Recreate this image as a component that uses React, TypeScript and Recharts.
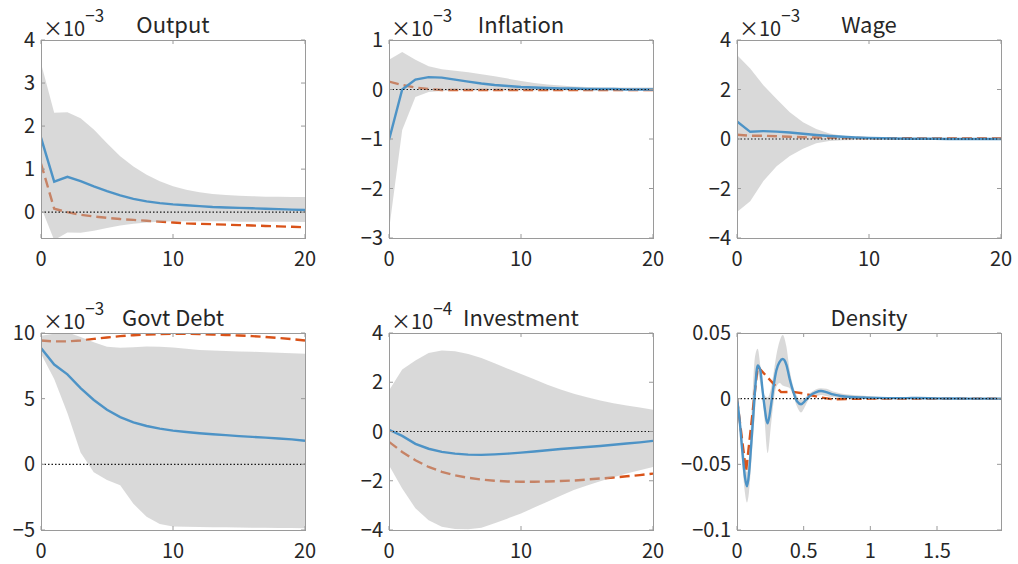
import React from 'react';
import { ComposedChart, Line, Area, XAxis, YAxis, ReferenceLine } from 'recharts';

// quarters after the shock
const HORIZON = [0, 1, 2, 3, 4, 5, 6, 7, 8, 9, 10, 11, 12, 13, 14, 15, 16, 17, 18, 19, 20];

// Output, x10^-3
const OUTPUT_MEAN = [1.73, 0.71, 0.82, 0.72, 0.6, 0.49, 0.39, 0.31, 0.25, 0.21, 0.18, 0.16, 0.14, 0.12, 0.11, 0.1, 0.09, 0.08, 0.07, 0.06, 0.05];
const OUTPUT_ALT = [1.13, 0.08, 0.0, -0.06, -0.1, -0.13, -0.16, -0.18, -0.2, -0.22, -0.24, -0.26, -0.27, -0.28, -0.29, -0.3, -0.31, -0.32, -0.33, -0.34, -0.35];
const OUTPUT_HI = [3.46, 2.31, 2.32, 2.18, 1.92, 1.6, 1.3, 1.06, 0.87, 0.72, 0.6, 0.52, 0.46, 0.42, 0.4, 0.38, 0.37, 0.36, 0.36, 0.35, 0.35];
const OUTPUT_LO = [0.12, -0.65, -0.47, -0.48, -0.43, -0.37, -0.31, -0.27, -0.24, -0.22, -0.21, -0.21, -0.21, -0.21, -0.21, -0.22, -0.22, -0.22, -0.22, -0.22, -0.23];

// Inflation, x10^-3
const INFL_MEAN = [-1.02, 0.0, 0.2, 0.25, 0.24, 0.2, 0.16, 0.12, 0.09, 0.07, 0.05, 0.04, 0.03, 0.02, 0.02, 0.01, 0.01, 0.01, 0.0, 0.0, 0.0];
const INFL_ALT = [0.16, 0.09, 0.04, 0.01, -0.01, -0.01, -0.01, -0.01, -0.01, -0.01, -0.01, -0.01, -0.01, -0.01, -0.01, -0.01, -0.01, -0.01, -0.01, -0.01, -0.01];
const INFL_HI = [0.6, 0.76, 0.6, 0.47, 0.41, 0.38, 0.35, 0.31, 0.27, 0.22, 0.17, 0.13, 0.1, 0.08, 0.06, 0.05, 0.04, 0.04, 0.04, 0.04, 0.04];
const INFL_LO = [-2.84, -0.82, -0.15, -0.05, -0.03, -0.02, -0.02, -0.02, -0.02, -0.02, -0.02, -0.02, -0.02, -0.02, -0.02, -0.02, -0.02, -0.02, -0.02, -0.02, -0.02];

// Wage, x10^-3
const WAGE_MEAN = [0.71, 0.29, 0.32, 0.3, 0.26, 0.21, 0.16, 0.12, 0.09, 0.06, 0.04, 0.03, 0.02, 0.01, 0.01, 0.01, 0.0, 0.0, 0.0, 0.0, 0.0];
const WAGE_ALT = [0.17, 0.13, 0.13, 0.11, 0.09, 0.07, 0.06, 0.05, 0.04, 0.04, 0.03, 0.03, 0.03, 0.03, 0.02, 0.02, 0.02, 0.02, 0.02, 0.02, 0.02];
const WAGE_HI = [3.39, 2.85, 2.17, 1.62, 1.08, 0.68, 0.4, 0.22, 0.13, 0.08, 0.06, 0.05, 0.04, 0.03, 0.03, 0.02, 0.02, 0.02, 0.02, 0.02, 0.02];
const WAGE_LO = [-2.95, -2.52, -1.7, -1.1, -0.69, -0.39, -0.17, -0.08, -0.05, -0.04, -0.03, -0.03, -0.03, -0.02, -0.02, -0.02, -0.02, -0.02, -0.02, -0.02, -0.02];

// Govt Debt, x10^-3
const DEBT_MEAN = [8.85, 7.6, 6.85, 5.8, 4.9, 4.15, 3.6, 3.2, 2.92, 2.72, 2.57, 2.46, 2.37, 2.29, 2.22, 2.15, 2.09, 2.03, 1.97, 1.9, 1.8];
const DEBT_ALT = [9.43, 9.36, 9.36, 9.43, 9.55, 9.66, 9.76, 9.83, 9.88, 9.92, 9.94, 9.94, 9.92, 9.89, 9.85, 9.81, 9.76, 9.7, 9.62, 9.54, 9.43];
const DEBT_HI = [9.8, 9.95, 10.05, 9.7, 9.3, 8.95, 8.88, 8.92, 8.97, 8.95, 8.9, 8.8, 8.7, 8.66, 8.63, 8.6, 8.57, 8.54, 8.5, 8.46, 8.42];
const DEBT_LO = [8.42, 6.5, 3.9, 0.9, -0.6, -1.2, -1.6, -3.0, -4.0, -4.55, -4.74, -4.76, -4.78, -4.79, -4.8, -4.81, -4.82, -4.83, -4.84, -4.85, -4.87];

// Investment, x10^-4
const INV_MEAN = [0.07, -0.18, -0.5, -0.7, -0.83, -0.9, -0.94, -0.95, -0.93, -0.9, -0.86, -0.81, -0.76, -0.71, -0.67, -0.63, -0.59, -0.54, -0.49, -0.44, -0.38];
const INV_ALT = [-0.42, -0.83, -1.17, -1.44, -1.64, -1.78, -1.88, -1.95, -2.0, -2.03, -2.04, -2.04, -2.03, -2.01, -1.99, -1.95, -1.91, -1.87, -1.82, -1.77, -1.71];
const INV_HI = [1.67, 2.52, 2.88, 3.19, 3.29, 3.26, 3.15, 2.98, 2.77, 2.55, 2.34, 2.12, 1.9, 1.71, 1.53, 1.39, 1.26, 1.15, 1.06, 0.97, 0.88];
const INV_LO = [-1.37, -2.31, -3.12, -3.6, -3.87, -3.96, -3.97, -3.91, -3.73, -3.53, -3.33, -3.09, -2.85, -2.61, -2.38, -2.19, -2.02, -1.86, -1.71, -1.57, -1.44];

// Density, on its own grid
const DENS_T = [0, 0.02, 0.04, 0.06, 0.075, 0.09, 0.105, 0.12, 0.135, 0.155, 0.175, 0.19, 0.205, 0.23, 0.255, 0.275, 0.295, 0.32, 0.343, 0.37, 0.395, 0.42, 0.45, 0.48, 0.515, 0.55, 0.59, 0.63, 0.67, 0.72, 0.78, 0.85, 0.95, 1.05, 1.2, 1.35, 1.5, 1.65, 1.8, 1.98];
const DENS_MEAN = [0, -0.017, -0.04, -0.06, -0.0667, -0.057, -0.037, -0.016, 0.006, 0.0253, 0.0215, 0.008, -0.005, -0.0188, -0.005, 0.01, 0.0215, 0.028, 0.0302, 0.026, 0.015, 0.006, -0.002, -0.0042, -0.0012, 0.0025, 0.0048, 0.0058, 0.005, 0.0032, 0.002, 0.0013, 0.0009, 0.0006, 0.0004, 0.0005, 0.0002, 0.0001, 0, 0];
const DENS_HI = [0, -0.01, -0.03, -0.048, -0.056, -0.044, -0.02, 0.01, 0.032, 0.038, 0.025, 0.012, 0.003, 0.001, 0.008, 0.02, 0.033, 0.044, 0.0485, 0.04, 0.022, 0.01, 0.002, -0.001, 0.001, 0.0045, 0.007, 0.008, 0.0075, 0.0055, 0.004, 0.003, 0.0022, 0.0015, 0.001, 0.001, 0.0006, 0.0004, 0.0002, 0.0001];
const DENS_LO = [0, -0.022, -0.05, -0.072, -0.079, -0.071, -0.052, -0.03, -0.01, 0.019, 0.012, 0.002, -0.014, -0.0415, -0.02, -0.002, 0.009, 0.012, 0.01, 0.009, 0.008, 0.003, -0.006, -0.0105, -0.005, 0.001, 0.002, 0.0028, 0.002, 0.001, 0.0005, 0, -0.0002, -0.0003, -0.0002, 0, -0.0002, -0.0002, -0.0002, -0.0001];
const DENS_ALT_T = [0, 0.068, 0.155, 0.33, 0.42, 0.5, 0.62, 0.72, 0.85, 1.0, 1.98];
const DENS_ALT = [0, -0.0554, 0.0245, 0.005, 0.0052, 0.004, 0.001, -0.0005, -0.0002, 0, 0];

const INT_TICKS = [0, 10, 20];
const DENS_X_TICKS = [0, 0.5, 1, 1.5];

const BLUE = '#4d93c6';
const ORANGE = '#d95319';
const BAND = '#b3b3b3';
const AXIS = '#9a9a9a';
const INK = '#262626';
const FONT = '"Noto Sans CJK JP", "Noto Sans", sans-serif';

const PLOT_W = 264;
const COL_X = [41, 389, 737];
const ROW_Y = [40, 333];
const ROW_H = [198, 197];
const ML = 70;
const MR = 12;
const MT = 30;
const MB = 45;

const fmt = (v: number) => (v < 0 ? '\u2212' + String(Math.abs(v)) : String(v));

const build = (mean: number[], alt: number[], lo: number[], hi: number[]) =>
  HORIZON.map((x, i) => ({ x, mean: mean[i], alt: alt[i], band: [lo[i], hi[i]] }));

const densRows = DENS_T.map((x, i) => ({ x, mean: DENS_MEAN[i], band: [DENS_LO[i], DENS_HI[i]] }));
const densAltRows = DENS_ALT_T.map((x, i) => ({ x, alt: DENS_ALT[i] }));

type PanelDef = {
  title: string;
  exp?: string;
  col: number;
  row: number;
  rows: any[];
  altRows?: any[];
  xDomain: [number, number];
  xTicks: number[];
  yDomain: [number, number];
  yTicks: number[];
  smooth?: boolean;
};

const PANELS: PanelDef[] = [
  { title: 'Output', exp: '\u22123', col: 0, row: 0, rows: build(OUTPUT_MEAN, OUTPUT_ALT, OUTPUT_LO, OUTPUT_HI), xDomain: [0, 20], xTicks: INT_TICKS, yDomain: [-0.6, 4], yTicks: [0, 1, 2, 3, 4] },
  { title: 'Inflation', exp: '\u22123', col: 1, row: 0, rows: build(INFL_MEAN, INFL_ALT, INFL_LO, INFL_HI), xDomain: [0, 20], xTicks: INT_TICKS, yDomain: [-3, 1], yTicks: [-3, -2, -1, 0, 1] },
  { title: 'Wage', exp: '\u22123', col: 2, row: 0, rows: build(WAGE_MEAN, WAGE_ALT, WAGE_LO, WAGE_HI), xDomain: [0, 20], xTicks: INT_TICKS, yDomain: [-4, 4], yTicks: [-4, -2, 0, 2, 4] },
  { title: 'Govt Debt', exp: '\u22123', col: 0, row: 1, rows: build(DEBT_MEAN, DEBT_ALT, DEBT_LO, DEBT_HI), xDomain: [0, 20], xTicks: INT_TICKS, yDomain: [-5, 10], yTicks: [-5, 0, 5, 10] },
  { title: 'Investment', exp: '\u22124', col: 1, row: 1, rows: build(INV_MEAN, INV_ALT, INV_LO, INV_HI), xDomain: [0, 20], xTicks: INT_TICKS, yDomain: [-4, 4], yTicks: [-4, -2, 0, 2, 4] },
  { title: 'Density', col: 2, row: 1, rows: densRows, altRows: densAltRows, xDomain: [0, 1.98], xTicks: DENS_X_TICKS, yDomain: [-0.1, 0.05], yTicks: [-0.1, -0.05, 0, 0.05], smooth: true },
];

const XTick = (props: any) => {
  const { x, y, payload, plotH } = props;
  return (
    <g>
      <line x1={x} x2={x} y1={y} y2={y - 4} stroke={AXIS} />
      <line x1={x} x2={x} y1={y - plotH} y2={y - plotH + 4} stroke={AXIS} />
      <text x={x} y={y + 28} textAnchor="middle" fontSize={20} fill={INK} fontFamily={FONT}>
        {fmt(payload.value)}
      </text>
    </g>
  );
};

const YTick = (props: any) => {
  const { x, y, payload } = props;
  return (
    <g>
      <line x1={x} x2={x + 4} y1={y} y2={y} stroke={AXIS} />
      <line x1={x + PLOT_W} x2={x + PLOT_W - 4} y1={y} y2={y} stroke={AXIS} />
      <text x={x - 6} y={y + 7} textAnchor="end" fontSize={20} fill={INK} fontFamily={FONT}>
        {fmt(payload.value)}
      </text>
    </g>
  );
};

// one layer of a panel; layers are stacked so the band can sit over the dashed line
const Layer = ({ p, withTicks, children }: { p: PanelDef; withTicks: boolean; children: React.ReactNode }) => {
  const plotH = ROW_H[p.row];
  return (
    <div style={{ position: 'absolute', left: COL_X[p.col] - ML, top: ROW_Y[p.row] - MT }}>
      <ComposedChart
        width={PLOT_W + ML + MR}
        height={plotH + MT + MB}
        data={p.rows}
        margin={{ top: MT, right: MR, bottom: 0, left: 0 }}
      >
        <XAxis
          dataKey="x"
          type="number"
          domain={p.xDomain}
          ticks={p.xTicks}
          interval={0}
          allowDataOverflow
          height={MB}
          tickSize={0}
          tickMargin={0}
          axisLine={false}
          tickLine={false}
          tick={withTicks ? (t: any) => <XTick {...t} plotH={plotH} /> : false}
        />
        <YAxis
          type="number"
          domain={p.yDomain}
          ticks={p.yTicks}
          interval={0}
          allowDataOverflow
          width={ML}
          tickSize={0}
          tickMargin={0}
          axisLine={false}
          tickLine={false}
          tick={withTicks ? (t: any) => <YTick {...t} /> : false}
        />
        {children}
      </ComposedChart>
    </div>
  );
};

const Panel = ({ p }: { p: PanelDef }) => {
  const curve = p.smooth ? 'monotone' : 'linear';
  const alt = (
    <Line
      dataKey="alt"
      data={p.altRows}
      type="linear"
      stroke={ORANGE}
      strokeWidth={2.4}
      strokeDasharray="10 5"
      dot={false}
      activeDot={false}
      isAnimationActive={false}
    />
  );
  return (
    <>
      <Layer p={p} withTicks={false}>
        {!p.smooth && alt}
      </Layer>
      <Layer p={p} withTicks>
        <Area dataKey="band" type={curve} stroke="none" fill={BAND} fillOpacity={0.5} isAnimationActive={false} />
        {p.smooth && alt}
        <Line dataKey="mean" type={curve} stroke={BLUE} strokeWidth={2.4} dot={false} activeDot={false} isAnimationActive={false} />
        <ReferenceLine y={0} stroke="#1a1a1a" strokeWidth={1.2} strokeDasharray="1.5 2" />
      </Layer>
    </>
  );
};

const Decorations = () => (
  <svg width={1018} height={564} style={{ position: 'absolute', left: 0, top: 0, pointerEvents: 'none' }}>
    {PANELS.map((p) => {
      const x0 = COL_X[p.col];
      const y0 = ROW_Y[p.row];
      const h = ROW_H[p.row];
      return (
        <g key={p.title} fontFamily={FONT} fill={INK}>
          <rect x={x0 + 0.5} y={y0 + 0.5} width={PLOT_W} height={h} fill="none" stroke={AXIS} />
          <text x={x0 + PLOT_W / 2} y={y0 - 7} textAnchor="middle" fontSize={22}>
            {p.title}
          </text>
          {p.exp && (
            <text x={x0 + 2} y={y0 - 4} fontSize={20}>
              <tspan>{'\u00d710'}</tspan>
              <tspan dy={-14} fontSize={17}>
                {p.exp}
              </tspan>
            </text>
          )}
        </g>
      );
    })}
  </svg>
);

export default function App() {
  return (
    <div style={{ position: 'relative', width: 1018, height: 564, background: '#fff', overflow: 'hidden' }}>
      <style>{'body{margin:0}'}</style>
      {PANELS.map((p) => (
        <Panel key={p.title} p={p} />
      ))}
      <Decorations />
    </div>
  );
}
